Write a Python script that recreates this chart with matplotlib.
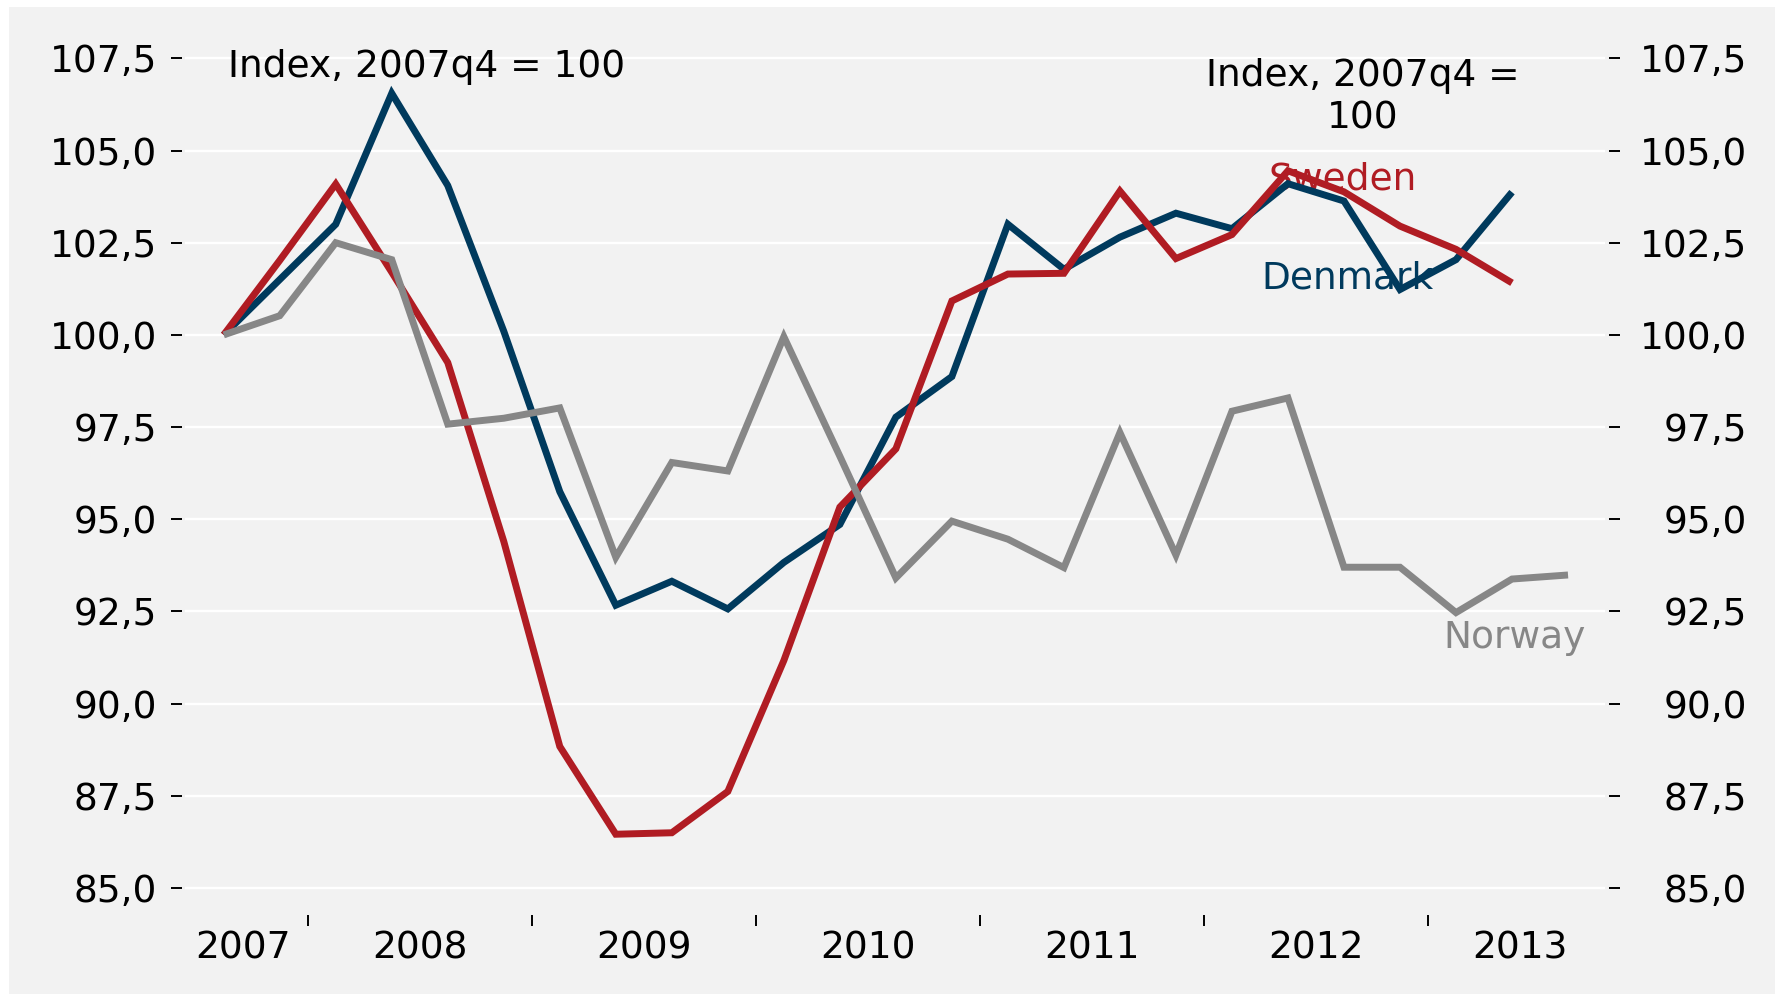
import numpy as np
import matplotlib
matplotlib.use("Agg")
import matplotlib.pyplot as plt
from matplotlib.patches import Rectangle

# ---------------- data ----------------
quarters = ["2007q4", "2008q1", "2008q2", "2008q3", "2008q4", "2009q1", "2009q2", "2009q3",
            "2009q4", "2010q1", "2010q2", "2010q3", "2010q4", "2011q1", "2011q2", "2011q3",
            "2011q4", "2012q1", "2012q2", "2012q3", "2012q4", "2013q1", "2013q2", "2013q3",
            "2013q4"]
denmark = [100.0, 101.5, 103.0, 106.55, 104.05, 100.1, 95.75, 92.67, 93.32, 92.57, 93.83, 94.86,
           97.77, 98.87, 103.0, 101.78, 102.65, 103.3, 102.88, 104.1, 103.63, 101.23, 102.04, 103.87]
sweden = [100.0, 102.02, 104.09, 101.7, 99.25, 94.4, 88.84, 86.46, 86.5, 87.62, 91.17, 95.33,
          96.91, 100.92, 101.65, 101.67, 103.9, 102.07, 102.72, 104.45, 103.88, 102.95, 102.32, 101.41]
norway = [100.0, 100.52, 102.5, 102.04, 97.58, 97.74, 98.02, 93.97, 96.54, 96.31, 99.95, 96.71,
          93.41, 94.95, 94.46, 93.69, 97.35, 94.03, 97.93, 98.29, 93.7, 93.7, 92.47, 93.38, 93.49]

year_labels = ["2007", "2008", "2009", "2010", "2011", "2012", "2013"]
year_label_pos = [0.35, 3.5, 7.5, 11.5, 15.5, 19.5, 23.15]
year_sep_ticks = [1.5, 5.5, 9.5, 13.5, 17.5, 21.5]
y_ticks = [85.0, 87.5, 90.0, 92.5, 95.0, 97.5, 100.0, 102.5, 105.0, 107.5]

C_DK = "#003a5d"
C_SE = "#b01c23"
C_NO = "#878787"
BG = "#f2f2f2"

W, H = 1775, 994
fig = plt.figure(figsize=(W / 100, H / 100), dpi=100)
fig.patch.set_facecolor("white")
fig.patches.append(Rectangle((9 / W, 0), 1, 1 - 7 / H, transform=fig.transFigure,
                             facecolor=BG, edgecolor="none", zorder=-10))

left_px, right_px, top_px, bot_px = 185, 1605, 28.8, 915
ax = fig.add_axes([left_px / W, 1 - bot_px / H, (right_px - left_px) / W, (bot_px - top_px) / H])
ax.set_facecolor(BG)

x_dk = np.arange(len(denmark))
x_se = np.arange(len(sweden))
x_no = np.arange(len(norway))

lw = 5.0
ax.plot(x_dk, denmark, color=C_DK, lw=lw, solid_joinstyle="miter", solid_capstyle="butt", zorder=3)
ax.plot(x_se, sweden, color=C_SE, lw=lw, solid_joinstyle="miter", solid_capstyle="butt", zorder=3)
ax.plot(x_no, norway, color=C_NO, lw=lw, solid_joinstyle="miter", solid_capstyle="butt", zorder=3)

ax.set_xlim(-0.691, 24.66)
ax.set_ylim(84.27, 108.3)

for s in ax.spines.values():
    s.set_visible(False)
ax.spines["left"].set_position(("outward", 2))

FS = 27
fmt = lambda v: f"{v:.1f}".replace(".", ",")

ax.set_yticks(y_ticks, labels=[fmt(v) for v in y_ticks])
ax.tick_params(axis="y", which="major", direction="out", length=7.9, width=1.4,
               color="black", pad=10, labelsize=FS, labelcolor="black")
ax.grid(axis="y", color="white", lw=1.7)
ax.set_axisbelow(True)

ax.set_xticks(year_sep_ticks, labels=[""] * len(year_sep_ticks))
ax.set_xticks(year_label_pos, labels=year_labels, minor=True)
ax.tick_params(axis="x", which="major", direction="out", length=7.9, width=1.4, color="black")
ax.tick_params(axis="x", which="minor", length=0, pad=11, labelsize=FS, labelcolor="black")

ax2 = ax.twinx()
ax2.set_ylim(ax.get_ylim())
for s in ax2.spines.values():
    s.set_visible(False)
ax2.spines["right"].set_position(("outward", 3))
ax2.set_yticks(y_ticks, labels=[fmt(v) for v in y_ticks])
ax2.tick_params(axis="y", direction="out", length=7.9, width=1.4, color="black",
                pad=91.5, labelsize=FS, labelcolor="black")
for lbl in ax2.get_yticklabels():
    lbl.set_horizontalalignment("right")

# annotations
ax.text(0.08, 106.99, "Index, 2007q4 = 100", fontsize=FS, color="black",
        ha="left", va="baseline", zorder=4)
ax.text(20.34, 105.61, "Index, 2007q4 =\n100", fontsize=FS, color="black",
        ha="center", va="baseline", multialignment="center", linespacing=1.2, zorder=4)

ax.text(19.97, 103.93, "Sweden", fontsize=FS, color=C_SE, ha="center", va="baseline", zorder=2)
ax.text(20.07, 101.27, "Denmark", fontsize=FS, color=C_DK, ha="center", va="baseline", zorder=2)
ax.text(23.04, 91.51, "Norway", fontsize=FS, color=C_NO, ha="center", va="baseline", zorder=2)

fig.savefig("out.png", dpi=100, facecolor=fig.get_facecolor())
